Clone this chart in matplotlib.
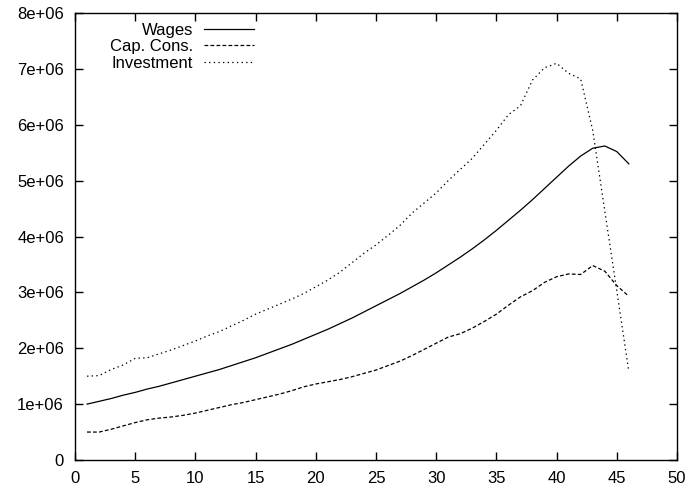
import matplotlib
matplotlib.use('Agg')
import matplotlib.pyplot as plt

plt.rcParams['font.family'] = ['Liberation Sans', 'DejaVu Sans']

# period index
periods = list(range(1, 47))

# values in millions
wages = [1.00, 1.05, 1.10, 1.16, 1.21, 1.27, 1.32, 1.38, 1.44, 1.50,
         1.56, 1.62, 1.69, 1.76, 1.83, 1.91, 1.99, 2.07, 2.16, 2.25,
         2.34, 2.44, 2.54, 2.65, 2.76, 2.87, 2.98, 3.10, 3.22, 3.35,
         3.49, 3.63, 3.78, 3.94, 4.11, 4.29, 4.47, 4.66, 4.86, 5.06,
         5.26, 5.44, 5.58, 5.62, 5.52, 5.30]
cap_cons = [0.50, 0.50, 0.55, 0.61, 0.67, 0.72, 0.75, 0.77, 0.80, 0.84,
            0.89, 0.94, 0.99, 1.03, 1.08, 1.13, 1.18, 1.24, 1.31, 1.36,
            1.40, 1.44, 1.49, 1.55, 1.61, 1.69, 1.77, 1.87, 1.98, 2.09,
            2.20, 2.26, 2.36, 2.48, 2.61, 2.77, 2.92, 3.03, 3.18, 3.28,
            3.33, 3.32, 3.48, 3.38, 3.12, 2.93]
investment = [1.50, 1.51, 1.62, 1.70, 1.82, 1.83, 1.90, 1.97, 2.05, 2.13,
              2.22, 2.30, 2.40, 2.50, 2.61, 2.70, 2.79, 2.88, 2.98, 3.10,
              3.22, 3.36, 3.53, 3.70, 3.85, 4.02, 4.20, 4.42, 4.60, 4.78,
              5.00, 5.20, 5.40, 5.65, 5.90, 6.18, 6.34, 6.80, 7.02, 7.10,
              6.92, 6.82, 5.90, 4.46, 3.03, 1.58]

xticks = [0, 5, 10, 15, 20, 25, 30, 35, 40, 45, 50]
yticks = [0, 1e6, 2e6, 3e6, 4e6, 5e6, 6e6, 7e6, 8e6]
ylabels = ['0', '1e+06', '2e+06', '3e+06', '4e+06', '5e+06', '6e+06', '7e+06', '8e+06']

fig = plt.figure(figsize=(6.91, 4.91), dpi=100)
ax = fig.add_axes([75/691, 31/491, 602/691, 447/491])

ax.plot(periods, [v*1e6 for v in wages], color='black', lw=0.9, label='Wages')
ax.plot(periods, [v*1e6 for v in cap_cons], color='black', lw=0.9,
        dashes=(3.0, 1.8), label='Cap. Cons.')
ax.plot(periods, [v*1e6 for v in investment], color='black', lw=0.9,
        dashes=(1.1, 2.6), label='Investment')

ax.set_xlim(0, 50)
ax.set_ylim(0, 8e6)
ax.set_xticks(xticks)
ax.set_yticks(yticks)
ax.set_yticklabels(ylabels)
ax.tick_params(direction='in', top=True, right=True, length=6, width=1,
               labelsize=12, pad=8, colors='black')
for s in ax.spines.values():
    s.set_linewidth(1.0)

leg = ax.legend(loc='upper right', bbox_to_anchor=(179/602, 1.0 - 10/447),
                markerfirst=False, frameon=False, fontsize=12,
                handlelength=3.0, handletextpad=0.66, labelspacing=0.08,
                borderpad=0, borderaxespad=0)

fig.savefig('out.png', dpi=100)
